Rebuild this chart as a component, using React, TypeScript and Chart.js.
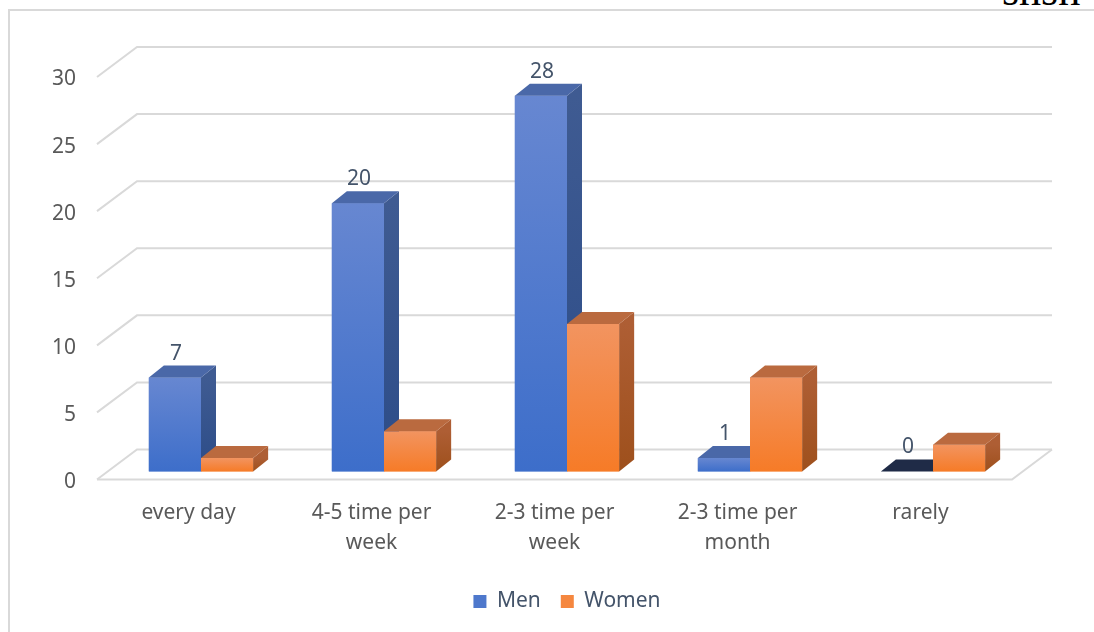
import React, { useEffect, useRef } from "react";
import { Chart, registerables } from "chart.js";

Chart.register(...registerables);

// ---------- data ----------
const CATEGORIES: string[][] = [
  ["every day"],
  ["4-5 time per", "week"],
  ["2-3 time per", "week"],
  ["2-3 time per", "month"],
  ["rarely"],
];
const SERIES_NAMES = ["Men", "Women"];
const MEN = [7, 20, 28, 1, 0];
const WOMEN = [1, 3, 11, 7, 2];
const Y_TICKS = [0, 5, 10, 15, 20, 25, 30];

// ---------- styles ----------
const FONT = '"Noto Sans", "Open Sans", sans-serif';
const FONT_SIZE = 21;
const AXIS_COLOR = "#595959";
const LABEL_COLOR = "#44546A";
const GRID_COLOR = "#d9d9d9";

const STYLE = [
  {
    front: ["#6787D1", "#3D6ECA"],
    side: ["#3F5B92", "#2C4C88"],
    top: "#4A68A8",
    zeroTop: "#1F2B47",
    legend: "#4E78CC",
  },
  {
    front: ["#F29460", "#F67B27"],
    side: ["#AE5E34", "#9E501C"],
    top: "#BA6A3F",
    zeroTop: "#8A3E10",
    legend: "#F5873F",
  },
];

// bar depth (3-D look)
const BAR_DX = 15;
const BAR_DY = -12;
// grid planes relative to the bar plane
const FRONT_DX = -12.5;
const FRONT_DY = 8;
const BACK_DX = 40;
const BACK_DY = -30;

const threeD = {
  id: "threeD",
  beforeDatasetsDraw(chart: any) {
    const { ctx, chartArea: a } = chart;
    const ys = chart.scales.y;
    const fx0 = a.left + FRONT_DX;
    const fx1 = a.right + FRONT_DX;
    ctx.save();
    ctx.strokeStyle = GRID_COLOR;
    ctx.lineWidth = 2;
    ys.ticks.forEach((t: any) => {
      const yf = ys.getPixelForValue(t.value) + FRONT_DY;
      ctx.beginPath();
      ctx.moveTo(fx0, yf);
      ctx.lineTo(fx0 + BACK_DX, yf + BACK_DY);
      ctx.lineTo(fx1 + BACK_DX, yf + BACK_DY);
      ctx.stroke();
    });
    const y0 = ys.getPixelForValue(0) + FRONT_DY;
    ctx.beginPath();
    ctx.moveTo(fx0, y0);
    ctx.lineTo(fx1, y0);
    ctx.lineTo(fx1 + BACK_DX, y0 + BACK_DY);
    ctx.stroke();
    ctx.restore();
  },
  afterDatasetsDraw(chart: any) {
    const { ctx } = chart;
    const metas = [chart.getDatasetMeta(0), chart.getDatasetMeta(1)];
    const n = CATEGORIES.length;
    ctx.save();
    for (let i = 0; i < n; i++) {
      metas.forEach((meta: any, d: number) => {
        const el = meta.data[i];
        if (!el) return;
        const { x, y, base, width } = el.getProps(["x", "y", "base", "width"], true);
        const l = x - width / 2;
        const r = x + width / 2;
        const st = STYLE[d];
        // front (library element)
        el.draw(ctx);
        // side face
        if (base - y > 0.5) {
          const g = ctx.createLinearGradient(0, y, 0, base);
          g.addColorStop(0, st.side[0]);
          g.addColorStop(1, st.side[1]);
          ctx.fillStyle = g;
          ctx.beginPath();
          ctx.moveTo(r, y);
          ctx.lineTo(r + BAR_DX, y + BAR_DY);
          ctx.lineTo(r + BAR_DX, base + BAR_DY);
          ctx.lineTo(r, base);
          ctx.closePath();
          ctx.fill();
        }
        // top face
        ctx.fillStyle = base - y > 0.5 ? st.top : st.zeroTop;
        ctx.beginPath();
        ctx.moveTo(l, y);
        ctx.lineTo(l + BAR_DX, y + BAR_DY);
        ctx.lineTo(r + BAR_DX, y + BAR_DY);
        ctx.lineTo(r, y);
        ctx.closePath();
        ctx.fill();
      });
    }
    // data labels for Men
    ctx.fillStyle = LABEL_COLOR;
    ctx.font = `${FONT_SIZE}px ${FONT}`;
    ctx.textAlign = "center";
    ctx.textBaseline = "middle";
    metas[0].data.forEach((el: any, i: number) => {
      const { x, y } = el.getProps(["x", "y"], true);
      ctx.fillText(String(MEN[i]), x + 1, y - 24);
    });
    ctx.restore();
  },
};

function frontGradient(d: number) {
  return (c: any) => {
    const chart = c.chart;
    const ys = chart.scales?.y;
    if (!chart.chartArea || !ys || c.type !== "data") return STYLE[d].front[1];
    const top = ys.getPixelForValue(c.raw);
    const base = ys.getPixelForValue(0);
    if (base - top < 1) return STYLE[d].front[1];
    const g = chart.ctx.createLinearGradient(0, top, 0, base);
    g.addColorStop(0, STYLE[d].front[0]);
    g.addColorStop(1, STYLE[d].front[1]);
    return g;
  };
}

export default function App() {
  const ref = useRef<HTMLCanvasElement>(null);

  useEffect(() => {
    if (!ref.current) return;
    const chart = new Chart(ref.current, {
      type: "bar",
      data: {
        labels: CATEGORIES,
        datasets: [
          {
            label: SERIES_NAMES[0],
            data: MEN,
            backgroundColor: frontGradient(0),
            borderWidth: 0,
            categoryPercentage: 0.57,
            barPercentage: 1,
          },
          {
            label: SERIES_NAMES[1],
            data: WOMEN,
            backgroundColor: frontGradient(1),
            borderWidth: 0,
            categoryPercentage: 0.57,
            barPercentage: 1,
          },
        ],
      },
      options: {
        responsive: false,
        animation: false,
        devicePixelRatio: 1,
        layout: { padding: { left: 49.5, right: 69.5, top: 69, bottom: 10 } },
        plugins: {
          tooltip: { enabled: false },
          legend: {
            position: "bottom",
            fullSize: false,
            labels: {
              color: LABEL_COLOR,
              font: { family: FONT, size: FONT_SIZE },
              boxWidth: 13,
              boxHeight: 13,
              padding: 20,
              generateLabels: () =>
                SERIES_NAMES.map((name, i) => ({
                  text: name,
                  fillStyle: STYLE[i].legend,
                  strokeStyle: STYLE[i].legend,
                  lineWidth: 0,
                  hidden: false,
                  datasetIndex: i,
                  fontColor: LABEL_COLOR,
                })),
            },
          },
        },
        scales: {
          x: {
            grid: { display: false, drawTicks: false },
            border: { display: false },
            ticks: {
              color: AXIS_COLOR,
              font: { family: FONT, size: FONT_SIZE, lineHeight: 30 / FONT_SIZE },
              padding: 27,
              labelOffset: FRONT_DX,
              maxRotation: 0,
              autoSkip: false,
            },
            afterFit: (s: any) => {
              s.height = 99.5;
            },
          },
          y: {
            min: 0,
            max: 30,
            grid: { display: false, drawTicks: false },
            border: { display: false },
            ticks: {
              stepSize: 5,
              color: AXIS_COLOR,
              font: { family: FONT, size: FONT_SIZE },
              padding: 33.5,
              labelOffset: FRONT_DY + 2.5,
            },
            afterBuildTicks: (s: any) => {
              s.ticks = Y_TICKS.map((v) => ({ value: v }));
            },
            afterFit: (s: any) => {
              s.width = 60;
            },
          },
        },
      },
      plugins: [threeD],
    } as any);
    return () => chart.destroy();
  }, []);

  return (
    <div
      style={{
        position: "absolute",
        left: 0,
        top: 0,
        width: 1094,
        height: 632,
        overflow: "hidden",
        background: "#fff",
      }}
    >
      <div
        style={{
          position: "absolute",
          left: 8,
          top: 9,
          width: 1200,
          height: 800,
          borderLeft: "2px solid #d9d9d9",
          borderTop: "2px solid #d9d9d9",
        }}
      />
      <div
        style={{
          position: "absolute",
          left: 1002,
          top: -32,
          font: '44px "Liberation Serif", "DejaVu Serif", serif',
          lineHeight: "46px",
          color: "#000",
          whiteSpace: "nowrap",
        }}
      >
        shsh
      </div>
      <canvas
        ref={ref}
        width={1094}
        height={632}
        style={{ position: "absolute", left: 0, top: 0, width: 1094, height: 632 }}
      />
    </div>
  );
}
